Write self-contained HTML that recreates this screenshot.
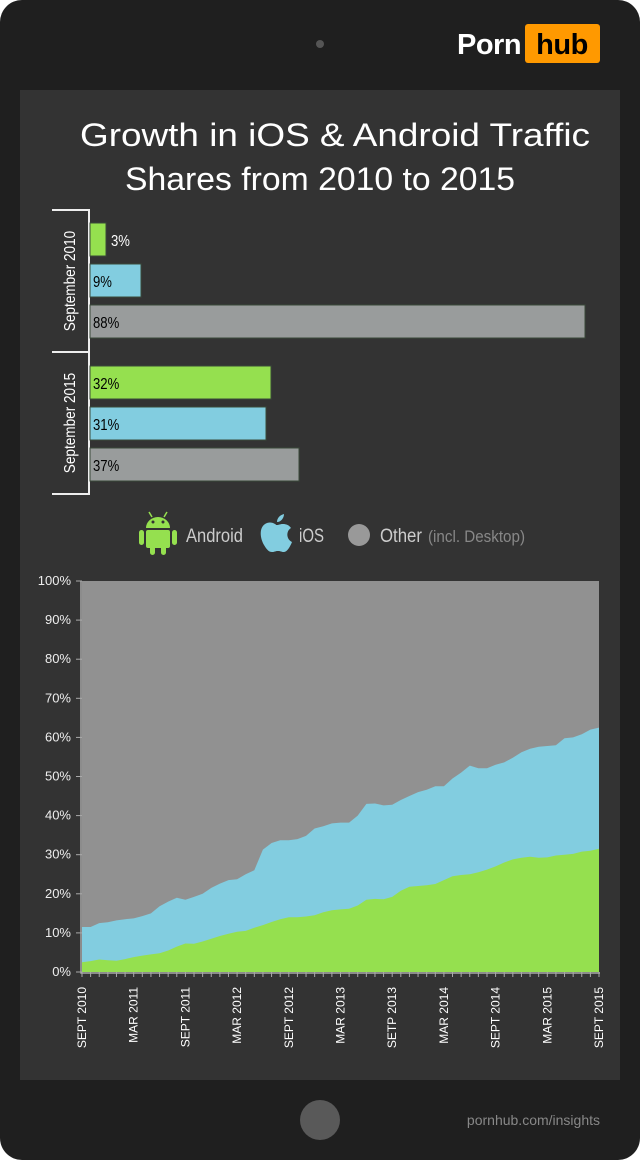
<!DOCTYPE html>
<html><head><meta charset="utf-8"><style>
html,body{margin:0;padding:0;background:#fff;}
body{width:640px;height:1160px;overflow:hidden;}
</style></head><body>
<svg id="s" width="640" height="1160" xmlns="http://www.w3.org/2000/svg" font-family="Liberation Sans, sans-serif">
<rect x="0" y="0" width="640" height="1160" rx="22" fill="#1f1f1f"/>
<circle cx="320" cy="44" r="4" fill="#555"/>
<text x="457" y="54" font-size="29" font-weight="bold" fill="#fff" letter-spacing="-0.5">Porn</text>
<rect x="525" y="24" width="75" height="39" rx="3" fill="#ff9900"/>
<text x="562" y="54" font-size="29" font-weight="bold" fill="#000" text-anchor="middle" letter-spacing="-0.5">hub</text>
<rect x="20" y="90" width="600" height="990" fill="#333"/>
<text x="80" y="146" font-size="32" fill="#fff" textLength="510" lengthAdjust="spacingAndGlyphs">Growth in iOS &amp; Android Traffic</text>
<text x="125" y="190" font-size="32" fill="#fff" textLength="390" lengthAdjust="spacingAndGlyphs">Shares from 2010 to 2015</text>
<g stroke="#eee" stroke-width="2" fill="none">
<path d="M52 210H89V494H52M52 352H89"/>
</g>
<g font-size="16" fill="#fff" text-anchor="middle">
<text transform="translate(75,281) rotate(-90) scale(0.85,1)">September 2010</text>
<text transform="translate(75,423) rotate(-90) scale(0.85,1)">September 2015</text>
</g>
<g stroke="#3a4a3a" stroke-width="1">
<rect x="90" y="223" width="16" height="33" fill="#95e04f"/>
<rect x="90" y="264" width="51" height="33" fill="#82cde0"/>
<rect x="90" y="305" width="495" height="33" fill="#999c9c"/>
<rect x="90" y="366" width="181" height="33" fill="#95e04f"/>
<rect x="90" y="407" width="176" height="33" fill="#82cde0"/>
<rect x="90" y="448" width="209" height="33" fill="#999c9c"/>
</g>
<g font-size="16">
<text transform="translate(111,246) scale(0.82,1)" fill="#fff">3%</text>
<text transform="translate(93,287) scale(0.82,1)" fill="#000">9%</text>
<text transform="translate(93,328) scale(0.82,1)" fill="#000">88%</text>
<text transform="translate(93,389) scale(0.82,1)" fill="#000">32%</text>
<text transform="translate(93,430) scale(0.82,1)" fill="#000">31%</text>
<text transform="translate(93,471) scale(0.82,1)" fill="#000">37%</text>
</g>
<!-- legend -->
<g fill="#95e04f">
<path d="M146 528a12 11 0 0 1 24 0z"/>
<rect x="146" y="530" width="24" height="18" rx="2"/>
<rect x="139" y="530" width="5" height="15" rx="2.5"/>
<rect x="172" y="530" width="5" height="15" rx="2.5"/>
<rect x="150" y="545" width="5" height="10" rx="2.5"/>
<rect x="161" y="545" width="5" height="10" rx="2.5"/>
<path d="M149 512l3 5M167 512l-3 5" stroke="#95e04f" stroke-width="1.5"/>
</g>
<circle cx="153" cy="522" r="1.5" fill="#333"/><circle cx="163" cy="522" r="1.5" fill="#333"/>
<g fill="#82cde0">
<path d="M275 524c-3-2-7-2-10 0-6 4-5 14-1 21 3 5 5 7 8 7 3 0 3-1 6-1s3 1 6 1c3 0 6-5 8-10-6-3-6-11-1-14-2-3-5-4-8-4-3 0-4 1-6 1s-1-1-2-1z"/>
<path d="M277 522c0-4 3-7 7-8 0 4-3 8-7 8z"/>
</g>
<circle cx="359" cy="535" r="11" fill="#999"/>
<g font-size="19">
<text x="186" y="542" fill="#ccc" textLength="57" lengthAdjust="spacingAndGlyphs">Android</text>
<text x="299" y="542" fill="#ccc" textLength="25" lengthAdjust="spacingAndGlyphs">iOS</text>
<text x="380" y="542" fill="#ccc" textLength="42" lengthAdjust="spacingAndGlyphs">Other</text>
<text x="428" y="542" fill="#888" font-size="17" textLength="97" lengthAdjust="spacingAndGlyphs">(incl. Desktop)</text>
</g>
<!-- chart -->
<rect x="82" y="581" width="517" height="391" fill="#919191"/>
<polygon id="ios" fill="#82cde0"/>
<polygon id="and" fill="#95e04f"/>
<path d="M81 581V973H600" stroke="#aaa" stroke-width="1.5" fill="none"/>
<g id="ticks" stroke="#aaa" stroke-width="1"></g>
<g id="yl" font-size="13" fill="#eee" text-anchor="end"></g>
<g id="xl" font-size="12" fill="#fff" text-anchor="end"></g>
<circle cx="320" cy="1120" r="20" fill="#595959"/>
<text x="600" y="1125" font-size="14" fill="#888" text-anchor="end">pornhub.com/insights</text>
</svg>
<script>
var tot=[11.5,11.5,12.5,12.7,13.2,13.5,13.7,14.3,15,16.8,18,19,18.5,19.2,20,21.5,22.6,23.5,23.7,25,26,31.3,33,33.7,33.7,34,34.8,36.7,37.3,38,38.2,38.2,40,43,43.1,42.6,42.8,44,45,46,46.6,47.5,47.5,49.5,51,52.8,52.1,52.1,53,53.6,54.8,56.2,57.1,57.6,57.8,58,59.8,60,60.8,62,62.5];
var an=[2.5,2.8,3.2,3,2.9,3.3,3.8,4.2,4.5,4.8,5.5,6.5,7.3,7.2,7.8,8.5,9.2,9.8,10.3,10.5,11.3,12,12.8,13.5,14,14,14.2,14.5,15.3,15.8,16,16.2,17,18.5,18.7,18.6,19.2,20.8,21.8,22,22.2,22.5,23.5,24.5,24.8,25,25.5,26.2,27,28,28.8,29.2,29.5,29.2,29.3,29.8,30,30.2,30.8,31,31.5];
function pts(a){var n=a.length,s=[];for(var i=0;i<n;i++){s.push((82+517*i/(n-1)).toFixed(1)+','+(972-3.91*a[i]).toFixed(1));}s.push('599,972','82,972');return s.join(' ');}
document.getElementById('ios').setAttribute('points',pts(tot));
document.getElementById('and').setAttribute('points',pts(an));
var t=document.getElementById('ticks'),h='';
for(var i=0;i<=60;i++){var x=82+517*i/60;h+='<line x1="'+x+'" y1="972" x2="'+x+'" y2="977"/>';}
for(var k=0;k<=10;k++){var y=972-39.1*k;h+='<line x1="76" y1="'+y+'" x2="82" y2="'+y+'"/>';}
t.innerHTML=h;
var yl='';for(var k=0;k<=10;k++){yl+='<text x="71" y="'+(976-39.1*k)+'">'+(k*10)+'%</text>';}
document.getElementById('yl').innerHTML=yl;
var L=['SEPT 2010','MAR 2011','SEPT 2011','MAR 2012','SEPT 2012','MAR 2013','SETP 2013','MAR 2014','SEPT 2014','MAR 2015','SEPT 2015'];
var xl='';for(var i=0;i<11;i++){var x=82+517*i*6/60+4;xl+='<text transform="translate('+x+',987) rotate(-90)">'+L[i]+'</text>';}
document.getElementById('xl').innerHTML=xl;
</script>
</body></html>
